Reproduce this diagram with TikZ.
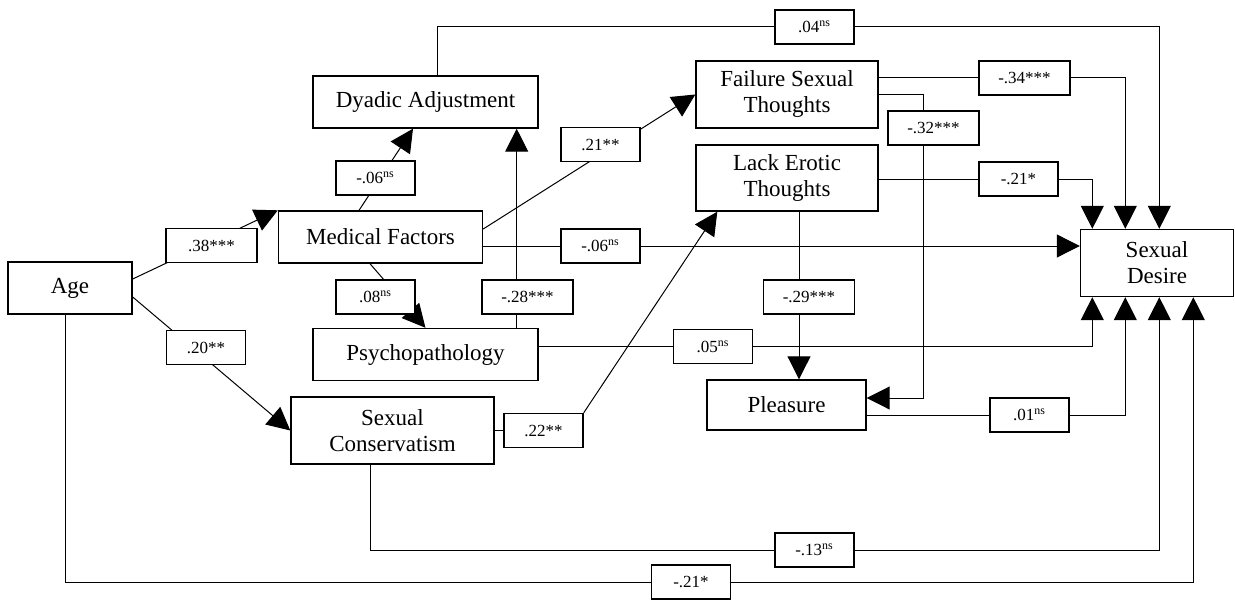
\documentclass[tikz,border=0pt]{standalone}
\usepackage{fontspec}
\setmainfont{Liberation Serif}
\usetikzlibrary{arrows.meta,backgrounds,calc}

\tikzset{
	factor/.style={draw, line width=0.7pt, inner sep=0pt, align=center, font=\fontsize{11.5}{13}\selectfont},
	coef/.style={draw, fill=white, line width=0.7pt, inner sep=0pt, minimum width=39.5pt, minimum height=17pt, font=\fontsize{8.5}{10}\selectfont},
	wcoef/.style={coef, minimum width=45.5pt},
	effect/.style={line width=0.5pt, -{Triangle[length=11.5pt,width=11.5pt]}},
	link/.style={line width=0.5pt}
}
\newcommand{\ns}{\textsuperscript{ns}}

\begin{document}
\begin{tikzpicture}[x=0.5pt, y=-0.5pt]
			%%%%% START %%%%%
			\useasboundingbox (0,0) rectangle (1235,599);
			
			% variables
			\node[factor, minimum width=62pt, minimum height=26pt] (age) at (70, 288) {Age};
			\node[factor, minimum width=102pt, minimum height=26pt] (med) at (380.5, 237) {Medical Factors};
			\node[factor, minimum width=112.5pt, minimum height=26pt] (dyad) at (425.5, 102) {Dyadic Adjustment};
			\node[factor, minimum width=112.5pt, minimum height=26pt] (psych) at (425.5, 354.5) {Psychopathology};
			\node[factor, minimum width=101.5pt, minimum height=33.5pt] (cons) at (392.5, 430.5) {Sexual\\Conservatism};
			\node[factor, minimum width=91pt, minimum height=33.5pt] (fail) at (787, 94.5) {Failure Sexual\\Thoughts};
			\node[factor, minimum width=91pt, minimum height=33pt] (lack) at (787, 178) {Lack Erotic\\Thoughts};
			\node[factor, minimum width=79.5pt, minimum height=25pt] (pleas) at (786.5, 405) {Pleasure};
			\node[factor, minimum width=76.5pt, minimum height=33.5pt] (desire) at (1157, 263) {Sexual\\Desire};
			
			% coefficients
			\node[wcoef] (l38) at (211.5, 245.5) {.38***};
			\node[coef] (l06a) at (375.5, 178) {-.06\ns};
			\node[coef] (l08) at (375.5, 297) {.08\ns};
			\node[coef] (l20) at (206, 347.5) {.20**};
			\node[coef] (l21a) at (600.5, 144.5) {.21**};
			\node[coef] (l06b) at (600.5, 246) {-.06\ns};
			\node[wcoef] (l28) at (527.5, 297) {-.28***};
			\node[wcoef] (l29) at (809, 297) {-.29***};
			\node[coef] (l04) at (814.5, 27) {.04\ns};
			\node[wcoef] (l34) at (1024.5, 78) {-.34***};
			\node[wcoef] (l32) at (933.5, 128) {-.32***};
			\node[coef] (l21b) at (1018.5, 179) {-.21*};
			\node[coef] (l05) at (713, 346.5) {.05\ns};
			\node[coef] (l22) at (543.5, 430.5) {.22**};
			\node[coef] (l01) at (1029.5, 415) {.01\ns};
			\node[coef] (l13) at (814.5, 550) {-.13\ns};
			\node[coef] (l21c) at (691, 582) {-.21*};
			
			\begin{scope}[on background layer]
			\draw[effect] ($(age.east)+(0,-9)$) -- (med.north west);
			\draw[effect] ($(age.east)+(0,9)$) -- (cons.west);
			\draw[effect] ($(med.north)+(-21.5,0)$) -- ($(dyad.south)+(-12.5,0)$);
			\draw[effect] ($(med.south)+(-10.5,0)$) -- (psych.north);
			\draw[effect] ($(med.east)+(0,-8)$) -- (fail.west);
			\draw[effect] ($(psych.north east)+(-22,0)$) -- ($(dyad.south east)+(-22,0)$);
			
			\coordinate (m6) at ($(med.east)+(0,9)$);
			\draw[effect] (m6) -- (m6 -| desire.west);
			
			\draw[link] (cons.east) -- (l22.west);
			\draw[effect] (l22.north east) -- ($(lack.south west)+(22,0)$);
			
			\coordinate (m9) at ($(lack.south)+(12,0)$);
			\draw[effect] (m9) -- (m9 |- pleas.north);
			
			\draw[effect] (fail.east) -| ($(pleas.east)+(57,-7)$) -- ($(pleas.east)+(0,-7)$);
			
			% into sexual desire, from above
			\draw[effect] ($(dyad.north)+(11.5,0)$) |- (l04) -| ($(desire.north west)+(79.5,0)$);
			\draw[effect] ($(fail.east)+(0,-16.5)$) -| ($(desire.north west)+(45.5,0)$);
			\draw[effect] ($(lack.east)+(0,1)$) -| ($(desire.north west)+(12.5,0)$);
			
			% into sexual desire, from below
			\draw[effect] ($(psych.east)+(0,-8)$) -| ($(desire.south west)+(12.5,0)$);
			\draw[effect] ($(pleas.east)+(0,10)$) -| ($(desire.south west)+(45.5,0)$);
			\draw[effect] ($(cons.south)+(-22.5,0)$) |- (l13) -| ($(desire.south west)+(79.5,0)$);
			\draw[effect] ($(age.south)+(-5,0)$) |- (l21c) -| ($(desire.south west)+(113.5,0)$);
			\end{scope}
			
			%%%%% END %%%%%
\end{tikzpicture}
\end{document}
